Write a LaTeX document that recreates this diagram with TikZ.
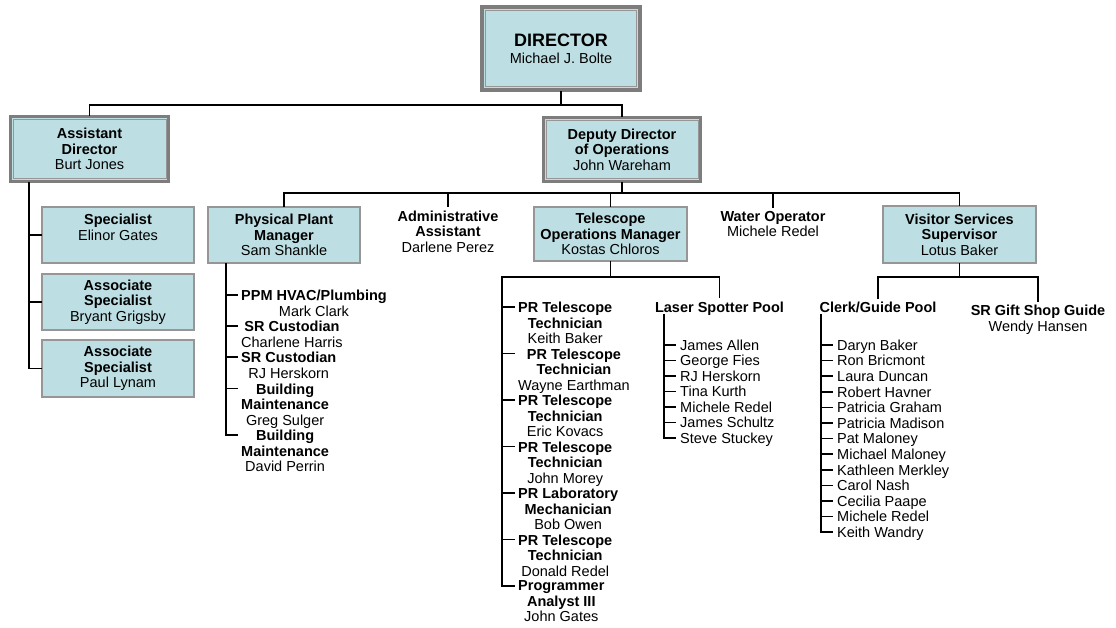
\documentclass[tikz,border=0pt]{standalone}
\usepackage{fontspec}
\setmainfont{Liberation Sans}
\definecolor{boxfill}{RGB}{189,223,227}
\definecolor{boxline}{RGB}{150,150,150}
\definecolor{frameline}{RGB}{125,125,125}

\begin{document}
\begin{tikzpicture}[x=1pt, y=-1pt,
  every node/.style={font=\fontsize{14.5}{15.5}\selectfont, align=center, inner sep=0pt},
  line/.style={draw=black, line width=1.7pt, line cap=rect},
  box/.style={draw=boxline, fill=boxfill, line width=1.6pt, minimum width=152.5pt, minimum height=56.5pt},
  framebox/.style 2 args={box, draw=frameline, line width=#1,
    path picture={\draw[boxline, line width=0.8pt]
      ([shift={(#2,-#2)}]path picture bounding box.north west) rectangle
      ([shift={(-#2,#2)}]path picture bounding box.south east);}},
  title/.style={inner sep=4pt},
  entry/.style={anchor=north west, inner xsep=4pt},
  member/.style={anchor=base west, inner xsep=5pt}]

  \useasboundingbox (0,0) rectangle (1116,628);

  % Director and the two deputies
  \node[framebox={4pt}{3.4pt}, minimum width=158pt, minimum height=83pt] (dir) at (561,48.5)
    {{\fontsize{18}{18}\selectfont\textbf{DIRECTOR}}\\[1.2pt]Michael J. Bolte};
  \node[framebox={3pt}{2.6pt}, minimum width=158pt, minimum height=65pt] (asst) at (89.5,149)
    {\textbf{Assistant}\\\textbf{Director}\\Burt Jones};
  \node[framebox={3pt}{2.6pt}, minimum width=157pt, minimum height=64pt] (dep) at (622,149.5)
    {\textbf{Deputy Director}\\\textbf{of Operations}\\John Wareham};

  \coordinate (dirbus) at (561,105);
  \draw[line] (dir.south) -- (dirbus);
  \draw[line] (asst.north) |- (dirbus) -| (dep.north);

  % Assistant Director's staff
  \node[box] (spec) at (118,235) {\textbf{Specialist}\\Elinor Gates\\\mbox{}};
  \node[box] (assoc1) at (118,302) {\textbf{Associate}\\\textbf{Specialist}\\Bryant Grigsby};
  \node[box] (assoc2) at (118,368.5) {\textbf{Associate}\\\textbf{Specialist}\\Paul Lynam};

  \coordinate (asstrail) at (29,183);
  \draw[line] (asstrail) |- (assoc2.west);
  \draw[line] (asstrail |- spec.west) -- (spec.west);
  \draw[line] (asstrail |- assoc1.west) -- (assoc1.west);

  % Deputy Director's staff
  \node[box] (ppm) at (284,235) {\textbf{Physical Plant}\\\textbf{Manager}\\Sam Shankle};
  \node[title] (admin) at (448,231.5) {\textbf{Administrative}\\\textbf{Assistant}\\Darlene Perez};
  \node[box, minimum height=54.5pt] (tel) at (610.5,234) {\textbf{Telescope}\\\textbf{Operations Manager}\\Kostas Chloros};
  \node[title] (water) at (773,224) {\textbf{Water Operator}\\Michele Redel};
  \node[box] (vis) at (959.5,234.5) {\textbf{Visitor Services}\\\textbf{Supervisor}\\Lotus Baker};

  \coordinate (depbus) at (622,193);
  \draw[line] (dep.south) -- (depbus);
  \draw[line] (ppm.north) |- (depbus) -| (vis.north);
  \draw[line] (admin.north |- depbus) -- (admin.north);
  \draw[line] (tel.north |- depbus) -- (tel.north);
  \draw[line] (water.north |- depbus) -- (water.north);

  % Physical Plant list
  \foreach \ty/\txt [count=\i] in {
      295/{\textbf{PPM HVAC/Plumbing}\\Mark Clark},
      326/{\textbf{SR Custodian}\\Charlene Harris},
      357/{\textbf{SR Custodian}\\RJ Herskorn},
      388.5/{\textbf{Building}\\\textbf{Maintenance}\\Greg Sulger},
      435/{\textbf{Building}\\\textbf{Maintenance}\\David Perrin}} {
    \coordinate (ppmtick\i) at (226,\ty);
    \node[entry] (ppm\i) at (237,\ty-5.2) {\txt};
    \draw[line] (ppmtick\i) -- (ppmtick\i -| ppm\i.west);
  }
  \coordinate (ppmrail) at (226,264);
  \draw[line] (ppmrail) -- (ppmtick5);

  % Telescope Operations list
  \node[title] (laser) at (719.5,308.5) {\textbf{Laser Spotter Pool}};
  \coordinate (telbus) at (610.5,277);
  \draw[line] (tel.south) -- (telbus);
  \foreach \txt [count=\i] in {
      {\textbf{PR Telescope}\\\textbf{Technician}\\Keith Baker},
      {\textbf{PR Telescope}\\\textbf{Technician}\\Wayne Earthman},
      {\textbf{PR Telescope}\\\textbf{Technician}\\Eric Kovacs},
      {\textbf{PR Telescope}\\\textbf{Technician}\\John Morey},
      {\textbf{PR Laboratory}\\\textbf{Mechanician}\\Bob Owen},
      {\textbf{PR Telescope}\\\textbf{Technician}\\Donald Redel},
      {\textbf{Programmer}\\\textbf{Analyst III}\\John Gates}} {
    \pgfmathsetmacro\ty{307+46.5*(\i-1)}
    \coordinate (teltick\i) at (502,\ty);
    \node[entry] (tech\i) at (514,\ty-5.2) {\txt};
    \draw[line] (teltick\i) -- (teltick\i -| tech\i.west);
  }
  \draw[line] (laser.north) |- (telbus) -| (teltick7);

  % Laser Spotter Pool
  \foreach \name [count=\i] in {James Allen, George Fies, RJ Herskorn, Tina Kurth,
      Michele Redel, James Schultz, Steve Stuckey} {
    \pgfmathsetmacro\ty{345+15.5*(\i-1)}
    \coordinate (lasertick\i) at (664,\ty);
    \node[member] (laser\i) at (675,\ty+5.2) {\name};
    \draw[line] (lasertick\i) -- (lasertick\i -| laser\i.west);
  }
  \coordinate (laserrail) at (664,315);
  \draw[line] (laserrail) -- (lasertick7);

  % Visitor Services
  \node[title] (clerk) at (878,307.5) {\textbf{Clerk/Guide Pool}};
  \node[title] (gift) at (1038,320) {\textbf{SR Gift Shop Guide}\\Wendy Hansen};
  \coordinate (visbus) at (959.5,277);
  \draw[line] (vis.south) -- (visbus);
  \draw[line] (clerk.north) |- (visbus) -| (gift.north);

  \foreach \name [count=\i] in {Daryn Baker, Ron Bricmont, Laura Duncan, Robert Havner,
      Patricia Graham, Patricia Madison, Pat Maloney, Michael Maloney, Kathleen Merkley,
      Carol Nash, Cecilia Paape, Michele Redel, Keith Wandry} {
    \pgfmathsetmacro\ty{345+15.6*(\i-1)}
    \coordinate (clerktick\i) at (821,\ty);
    \node[member] (clerk\i) at (832,\ty+5.2) {\name};
    \draw[line] (clerktick\i) -- (clerktick\i -| clerk\i.west);
  }
  \coordinate (clerkrail) at (821,315);
  \draw[line] (clerkrail) -- (clerktick13);

\end{tikzpicture}
\end{document}
